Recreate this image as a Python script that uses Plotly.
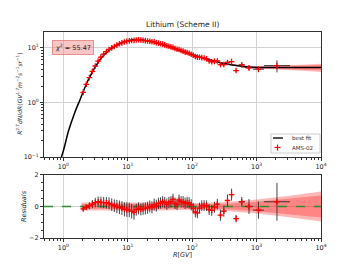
import numpy as np
import plotly.graph_objects as go

# ---------------- data ----------------
bin_edges = [1.92, 2.15, 2.40, 2.67, 2.97, 3.29, 3.64, 4.02, 4.43, 4.88, 5.37, 5.90, 6.47, 7.09,
             7.76, 8.48, 9.26, 10.1, 11.0, 12.0, 13.0, 14.1, 15.3, 16.6, 18.0, 19.5, 21.1, 22.8,
             24.7, 26.7, 28.8, 31.1, 33.5, 36.1, 38.9, 41.9, 45.1, 48.5, 52.2, 56.1, 60.3, 64.8,
             69.7, 74.9, 80.5, 86.5, 93.0, 100, 108, 116, 125, 135, 147, 160, 175, 192, 211, 233,
             259, 291, 330, 379, 441, 525, 660, 880, 1300, 3300]

flux = [1.53, 2.15, 2.85, 3.7, 4.65, 5.7, 6.75, 7.7, 8.55, 9.35, 10.0, 10.6, 11.2, 11.85,
        12.35, 12.75, 13.15, 13.4, 13.6, 13.7, 13.95, 14.05, 13.9, 13.75, 13.55, 13.35, 13.2,
        12.9, 12.85, 12.4, 12.2, 11.9, 11.7, 11.35, 10.9, 10.7, 10.4, 10.2, 9.7, 9.4, 9.3,
        8.95, 8.7, 8.35, 8.2, 7.95, 7.65, 7.3, 6.95, 6.75, 6.72, 6.62, 6.5, 6.3, 5.75, 5.55,
        5.65, 5.75, 4.94, 4.94, 5.4, 5.6, 3.84, 4.87, 4.3, 4.06, 4.73]

flux_rel_err = [0.025] * 20 + [0.03] * 27 + [0.035] * 7 + [0.045] * 4 + [0.055] * 3 + \
               [0.065, 0.06, 0.08, 0.10, 0.12, 0.25]

resid = [-0.15, -0.05, 0.05, 0.15, 0.25, 0.3, 0.28, 0.25, 0.23, 0.2, 0.12, 0.05, 0.0, -0.05,
         -0.1, -0.18, -0.2, -0.22, -0.3, -0.38, -0.2, -0.12, -0.18, -0.15, -0.12, -0.08, 0.0,
         -0.05, 0.12, 0.05, 0.2, 0.22, 0.3, 0.25, 0.15, 0.25, 0.3, 0.45, 0.2, 0.15, 0.4, 0.3,
         0.3, 0.2, 0.25, 0.22, 0.1, -0.12, -0.35, -0.4, -0.1, 0.05, 0.06, 0.05, -0.2, -0.25,
         -0.05, 0.15, -0.55, -0.3, 0.38, 0.75, -0.77, 0.3, 0.0, -0.23, 0.3]

resid_err = [0.13, 0.18, 0.22, 0.26, 0.3, 0.33, 0.35, 0.36, 0.37, 0.38, 0.4, 0.4, 0.42, 0.43,
             0.44, 0.45, 0.46, 0.46, 0.46, 0.45] + [0.38] * 10 + [0.36] * 17 + [0.34] * 11 + \
            [0.35, 0.35, 0.38, 0.38, 0.23, 0.3, 0.47, 0.55, 1.2]

fit_R = [0.9, 1.0, 1.2, 1.5, 1.8, 2.0, 2.3, 2.6, 3.0, 3.5, 4.0, 4.5, 5.0, 6.0, 7.0, 8.0, 10, 12,
         14, 16, 20, 25, 30, 40, 50, 65, 80, 100, 130, 170, 220, 300, 400, 550, 750, 1000, 1500,
         2000, 3000, 5000, 10000]
fit_F = [0.088, 0.13, 0.3, 0.65, 1.1, 1.5, 2.25, 3.0, 4.1, 5.5, 6.8, 7.9, 8.8, 10.3, 11.5, 12.4,
         13.5, 14.0, 14.2, 14.1, 13.5, 12.8, 12.0, 10.8, 9.8, 8.8, 8.1, 7.5, 6.8, 6.2, 5.7, 5.2,
         4.9, 4.65, 4.45, 4.38, 4.35, 4.35, 4.35, 4.35, 4.35]

band_R = [1.92, 3, 10, 30, 100, 300, 1000, 3000, 10000]
top_band_in = [0.01, 0.01, 0.01, 0.01, 0.012, 0.02, 0.04, 0.07, 0.11]
top_band_out = [0.015, 0.015, 0.015, 0.015, 0.02, 0.03, 0.06, 0.1, 0.17]
res_band_in = [0.15, 0.15, 0.15, 0.15, 0.12, 0.16, 0.3, 0.48, 0.7]
res_band_out = [0.25, 0.25, 0.25, 0.25, 0.2, 0.27, 0.45, 0.66, 0.95]

chi2_text = "55.47"
legend_labels = ["best fit", "AMS-02"]

# ---------------- derived ----------------
edges = np.array(bin_edges)
R = np.sqrt(edges[:-1] * edges[1:])
xm = R - edges[:-1]
xp = edges[1:] - R
F = np.array(flux)
Ferr = F * np.array(flux_rel_err)

lfR = np.log10(fit_R)
lbR = np.log10(band_R)
tin = np.interp(lfR, lbR, top_band_in)
tout = np.interp(lfR, lbR, top_band_out)
fF = np.array(fit_F)

RED = "#ff0000"
PINK = "rgba(255,0,0,0.28)"
EBAR = "rgba(35,35,35,0.85)"
fig = go.Figure()


def band(x, lo, hi, xa, ya):
    fig.add_trace(go.Scatter(x=list(x) + list(x)[::-1], y=list(hi) + list(lo)[::-1],
                             fill="toself", fillcolor=PINK, line=dict(width=0),
                             mode="lines", hoverinfo="skip", showlegend=False,
                             xaxis=xa, yaxis=ya))


MK = dict(symbol="cross-thin", size=4, color=RED, line=dict(width=1.3, color=RED))

# top panel
band(fit_R, fF * (1 - tout), fF * (1 + tout), "x", "y")
band(fit_R, fF * (1 - tin), fF * (1 + tin), "x", "y")
fig.add_trace(go.Scatter(x=fit_R, y=fit_F, mode="lines", line=dict(color="black", width=1.5,
                         shape="spline", smoothing=0.6),
                         name=legend_labels[0], showlegend=False, xaxis="x", yaxis="y"))
fig.add_trace(go.Scatter(x=R, y=F, mode="markers", name=legend_labels[1], showlegend=False,
                         marker=MK,
                         error_y=dict(type="data", array=Ferr, color=EBAR, thickness=1, width=0),
                         error_x=dict(type="data", symmetric=False, array=xp, arrayminus=xm,
                                      color=EBAR, thickness=1, width=0),
                         xaxis="x", yaxis="y"))

# residual panel
band(band_R, -np.array(res_band_out), np.array(res_band_out), "x2", "y2")
band(band_R, -np.array(res_band_in), np.array(res_band_in), "x2", "y2")
fig.add_trace(go.Scatter(x=[0.5, 10000], y=[0, 0], mode="lines",
                         line=dict(color="#2e8b2e", width=1.5, dash="dash"),
                         showlegend=False, xaxis="x2", yaxis="y2"))
fig.add_trace(go.Scatter(x=R, y=resid, mode="markers", showlegend=False, marker=MK,
                         error_y=dict(type="data", array=resid_err, color=EBAR,
                                      thickness=1, width=0),
                         error_x=dict(type="data", symmetric=False, array=xp, arrayminus=xm,
                                      color=EBAR, thickness=1, width=0),
                         xaxis="x2", yaxis="y2"))

xt = [1, 10, 100, 1000, 10000]
xtt = ["10<sup>%d</sup>" % i for i in range(5)]
minor_x = [k * 10 ** e for e in range(-1, 4) for k in range(2, 10) if 0.5 <= k * 10 ** e <= 1e4]
minor_y = [k * 10 ** e for e in range(-1, 2) for k in range(2, 10) if k * 10 ** e <= 20]

FONT = "DejaVu Sans"
axcommon = dict(showline=True, linecolor="#333", linewidth=1, mirror=True, ticks="outside",
                ticklen=3, tickwidth=0.8, tickcolor="#333", showgrid=True,
                gridcolor="#d3d3d3", gridwidth=1, zeroline=False,
                tickfont=dict(size=6.5, color="#222", family=FONT))
minor_log = lambda tv: dict(tickvals=tv, ticks="outside", ticklen=1.8, tickcolor="#333",
                            showgrid=False)

# ---- manual legend (paper coords, plot area is 277 x 206 px) ----
def px(xp_):
    return (xp_ - 44) / 277.0


def py(yp_):
    return (238 - yp_) / 206.0


shapes = [
    dict(type="rect", xref="paper", yref="paper", x0=px(271), x1=px(320), y0=py(153),
         y1=py(134), line=dict(color="#cccccc", width=1), fillcolor="rgba(255,255,255,0.9)"),
    dict(type="line", xref="paper", yref="paper", x0=px(273), x1=px(283), y0=py(138),
         y1=py(138), line=dict(color="#555555", width=2)),
    dict(type="line", xref="paper", yref="paper", x0=px(274.5), x1=px(280.5), y0=py(147.5),
         y1=py(147.5), line=dict(color=RED, width=1.2)),
    dict(type="line", xref="paper", yref="paper", x0=px(277.5), x1=px(277.5), y0=py(144.5),
         y1=py(150.5), line=dict(color=RED, width=1.2)),
]

fig.update_layout(
    width=357, height=268, margin=dict(l=44, r=36, t=32, b=30),
    paper_bgcolor="white", plot_bgcolor="white", font=dict(family=FONT, color="#222"),
    showlegend=False,
    xaxis=dict(axcommon, type="log", range=[np.log10(0.5), 4], domain=[0, 1], anchor="y",
               tickvals=xt, ticktext=xtt, minor=minor_log(minor_x)),
    yaxis=dict(axcommon, type="log", range=[-1, 1.29], domain=[0.393, 1], anchor="x",
               tickvals=[0.1, 1, 10],
               ticktext=["10<sup>−1</sup>", "10<sup>0</sup>", "10<sup>1</sup>"],
               minor=minor_log(minor_y)),
    xaxis2=dict(axcommon, type="log", range=[np.log10(0.5), 4], domain=[0, 1], anchor="y2",
                tickvals=xt, ticktext=xtt, minor=minor_log(minor_x)),
    yaxis2=dict(axcommon, range=[-2, 2], domain=[0, 0.306], anchor="x2",
                tickvals=[-2, 0, 2], ticktext=["−2", "0", "2"],
                minor=dict(dtick=0.5, ticks="outside", ticklen=1.8, tickcolor="#333",
                           showgrid=False)),
    shapes=shapes,
    annotations=[
        dict(text="Lithium (Scheme II)", x=0.5, y=1.034, xref="paper", yref="paper",
             showarrow=False, font=dict(size=7.5, family=FONT), yanchor="middle"),
        dict(text="<i>χ</i><sup>2</sup> = " + chi2_text, x=0.03, y=0.927, xref="paper",
             yref="paper", xanchor="left", yanchor="middle", showarrow=False,
             font=dict(size=6.5, family=FONT), bgcolor="rgba(240,128,128,0.45)",
             bordercolor="rgba(230,120,120,0.8)", borderwidth=1, borderpad=2),
        dict(text="<i>R</i><sup>2.7</sup><i>dN</i>/<i>dR</i>(<i>GV</i><sup>1.7</sup><i>m</i><sup>−2</sup><i>s</i><sup>−1</sup><i>sr</i><sup>−1</sup>)",
             x=-0.09, y=0.70, xref="paper", yref="paper", textangle=-90, showarrow=False,
             font=dict(size=6, family=FONT), xanchor="center", yanchor="middle"),
        dict(text="<i>Residuals</i>", x=-0.07, y=0.153, xref="paper", yref="paper",
             textangle=-90, showarrow=False, font=dict(size=6.5, family=FONT),
             xanchor="center", yanchor="middle"),
        dict(text="<i>R</i>[<i>GV</i>]", x=0.5, y=-0.083, xref="paper", yref="paper",
             showarrow=False, font=dict(size=6.5, family=FONT), xanchor="center",
             yanchor="middle"),
        dict(text=legend_labels[0], x=px(290), y=py(138), xref="paper", yref="paper",
             xanchor="left", yanchor="middle", showarrow=False,
             font=dict(size=5.5, family=FONT, color="#333")),
        dict(text=legend_labels[1], x=px(290), y=py(147.5), xref="paper", yref="paper",
             xanchor="left", yanchor="middle", showarrow=False,
             font=dict(size=5.5, family=FONT, color="#333")),
    ],
)

fig.write_html("out.html", config={"displayModeBar": False},
               post_script="document.body.style.margin='0px';")
